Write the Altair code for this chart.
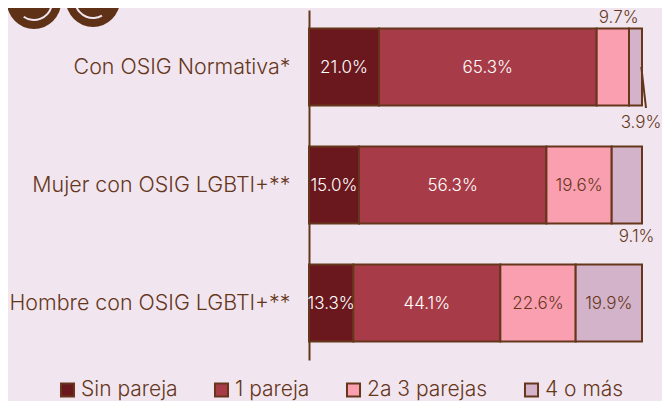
import altair as alt
import pandas as pd

categories = ["Con OSIG Normativa*", "Mujer con OSIG LGBTI+**", "Hombre con OSIG LGBTI+**"]
groups = ["Sin pareja", "1 pareja", "2a 3 parejas", "4 o más"]
colors = ["#6a181e", "#a73c48", "#fa9fb0", "#d3b3c9"]
sin_pareja = [21.0, 15.0, 13.3]
una_pareja = [65.3, 56.3, 44.1]
dos_tres = [9.7, 19.6, 22.6]
cuatro = [3.9, 9.1, 19.9]

BROWN = "#66361c"
BG = "#f1e6ef"
FONT = "Inter"

rows = []
for i, c in enumerate(categories):
    vals = [sin_pareja[i], una_pareja[i], dos_tres[i], cuatro[i]]
    total = sum(vals)
    s = 0
    for g, v in zip(groups, vals):
        rows.append(dict(cat=c, group=g, value=v, start=s / total, end=(s + v) / total,
                         mid=(s + v / 2) / total, label=f"{v:.1f}%"))
        s += v
df = pd.DataFrame(rows)

xs = alt.Scale(domain=[0, 1], range=[0, 333])
ys = alt.Scale(domain=categories, paddingInner=0.347, paddingOuter=0.157)
X = alt.X("start:Q", scale=xs, axis=None)
Y = alt.Y("cat:N", scale=ys, title=None, sort=categories,
          axis=alt.Axis(domainColor=BROWN, domainWidth=2, ticks=False, labelColor=BROWN,
                        labelFont=FONT, labelFontSize=21.4, labelPadding=19, labelLimit=400,
                        labelFontWeight=300, labelOffset=1))

bars = alt.Chart(df).mark_bar(stroke=BROWN, strokeWidth=2).encode(
    x=X, x2="end:Q", y=Y,
    color=alt.Color("group:N", scale=alt.Scale(domain=groups, range=colors), sort=groups,
                    legend=alt.Legend(orient="none", legendX=-252, legendY=369, direction="horizontal",
                                      title=None, symbolType="square", symbolSize=170,
                                      symbolStrokeColor=BROWN, symbolStrokeWidth=2,
                                      symbolOpacity=1, labelColor=BROWN, labelFont=FONT,
                                      labelFontSize=21, labelFontWeight=300, columnPadding=32,
                                      labelOffset=3)),
)

inside = df[~df.label.isin(["9.7%", "3.9%", "9.1%"])].copy()
white = inside[inside.group.isin(["Sin pareja", "1 pareja"])]
dark = inside[~inside.group.isin(["Sin pareja", "1 pareja"])]


def txt(frame, color, dy=1, xfield="mid"):
    return alt.Chart(frame).mark_text(font=FONT, fontSize=17, color=color, fontWeight=300, dy=dy).encode(
        x=alt.X(f"{xfield}:Q", scale=xs, axis=None),
        y=alt.Y("cat:N", scale=ys, sort=categories, title=None),
        text="label:N",
    )


outside = []
out_specs = [("9.7%", 0.93, -49), ("3.9%", 0.997, 56), ("9.1%", 0.984, 52)]
for lab, xpos, dy in out_specs:
    f = df[df.label == lab].copy()
    f["xpos"] = xpos
    outside.append(txt(f, BROWN, dy=dy, xfield="xpos"))

leader = alt.Chart(pd.DataFrame({"a": [0.998], "b": [1.012]})).mark_rule(color=BROWN, strokeWidth=2).encode(
    x=alt.X("a:Q", scale=xs, axis=None), x2="b:Q", y=alt.value(57), y2=alt.value(98))

# decorative faces
face_x = [-275, -216]
face_y = [-8, -10]
faces = []
for fx, fy, t0, t1 in zip(face_x, face_y, [1.83, 2.62], [3.75, 4.42]):
    faces.append(alt.Chart(pd.DataFrame({"n": [0]})).mark_point(filled=True, color="#5f3218", opacity=1, size=2916).encode(
        x=alt.value(fx), y=alt.value(fy)))
    faces.append(alt.Chart(pd.DataFrame({"n": [0]})).mark_arc(color="#f1e6ef", radius=19, radius2=17, theta=t0, theta2=t1).encode(
        x=alt.value(fx), y=alt.value(fy)))

chart = alt.layer(bars, *faces, txt(white, "white"), txt(dark, BROWN), *outside, leader).resolve_scale(
    y="shared", x="shared"
).properties(
    width=333, height=350,
    padding={"left": 301, "top": 2, "right": 20, "bottom": 41},
    background=BG,
    autosize=alt.AutoSizeParams(type="none"),
).configure_view(stroke=None)

chart.save("out.html", embed_options={"renderer": "svg", "actions": False})
